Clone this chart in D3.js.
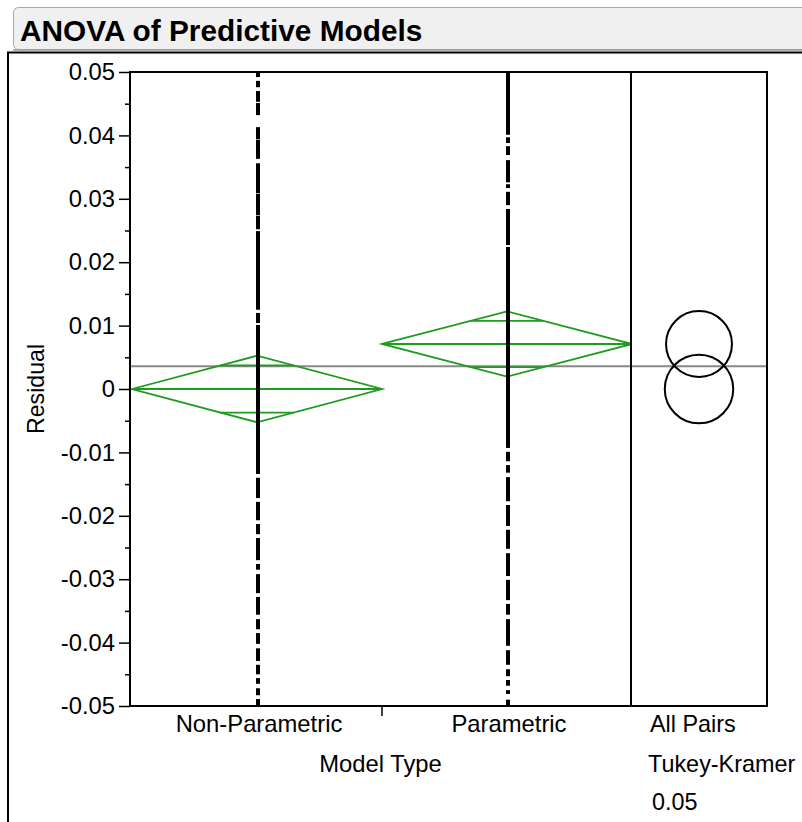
<!DOCTYPE html>
<html><head><meta charset="utf-8">
<script src="https://cdn.jsdelivr.net/npm/d3@7"></script>
<style>
html,body{margin:0;padding:0;background:#fff;}
svg{display:block;font-family:"Liberation Sans",Arial,sans-serif;}
</style></head>
<body>
<svg id="chart" width="802" height="822"></svg>
<script>
// ---------- data ----------
const title = "ANOVA of Predictive Models";
const categories = ["Non-Parametric", "Parametric"];
const groupMeans = [0.0, 0.0071];
const ciHalf = [0.00525, 0.00515];
const grandMean = 0.0036;
const circleRadius = [0.0054, 0.0052]; // Tukey-Kramer comparison circles (residual units)
const yTicks = [0.05, 0.04, 0.03, 0.02, 0.01, 0, -0.01, -0.02, -0.03, -0.04, -0.05];
const yMinorTicks = [0.045, 0.035, 0.025, 0.015, 0.005, -0.005, -0.015, -0.025, -0.035, -0.045];
const yLabel = "Residual";
const xLabel = "Model Type";
const compareLabels = ["All Pairs", "Tukey-Kramer", "0.05"];
// runs of densely packed residual points [high, low]
const nonParamRuns = [
  [0.0500, 0.0492], [0.0486, 0.0476], [0.0470, 0.0453], [0.0451, 0.0432],
  [0.0413, 0.0394], [0.0393, 0.0363], [0.0356, 0.0309], [0.0308, 0.0274],
  [0.0273, 0.0252], [0.0249, 0.0125], [0.0120, 0.0104], [0.0101, -0.0134],
  [-0.0140, -0.0172], [-0.0178, -0.0207], [-0.0213, -0.0229], [-0.0235, -0.0270],
  [-0.0276, -0.0285], [-0.0292, -0.0322], [-0.0328, -0.0356], [-0.0363, -0.0379],
  [-0.0385, -0.0402], [-0.0409, -0.0429], [-0.0435, -0.0450], [-0.0456, -0.0465],
  [-0.0472, -0.0483], [-0.0489, -0.0500]
];
const paramRuns = [
  [0.0500, 0.0401], [0.0397, 0.0388], [0.0383, 0.0369], [0.0361, 0.0326],
  [0.0323, 0.0317], [0.0311, 0.0290], [0.0284, 0.0227], [0.0224, -0.0093],
  [-0.0099, -0.0114], [-0.0120, -0.0132], [-0.0139, -0.0177], [-0.0183, -0.0216],
  [-0.0222, -0.0252], [-0.0259, -0.0295], [-0.0301, -0.0333], [-0.0339, -0.0356],
  [-0.0363, -0.0405], [-0.0412, -0.0435], [-0.0442, -0.0453], [-0.0459, -0.0468],
  [-0.0475, -0.0481], [-0.0490, -0.0500]
];
const runs = [nonParamRuns, paramRuns];

// ---------- layout ----------
const svg = d3.select("#chart");
const plotL = 130, plotT = 72, plotB = 706, divX = 631, plotR = 767;
const green = "#1f9b1f";
const FS = 23.8;

const y = d3.scaleLinear().domain([-0.05, 0.05]).range([plotB, plotT]);
const x = d3.scaleBand().domain(categories).range([132, 632]).padding(0);

// title bar
svg.append("rect").attr("x", 13.5).attr("y", 7.5).attr("width", 800).attr("height", 42)
  .attr("rx", 5).attr("fill", "#f0f0f0").attr("stroke", "#a8a8a8").attr("stroke-width", 1);
svg.append("line").attr("x1", 13).attr("x2", 802).attr("y1", 50).attr("y2", 50)
  .attr("stroke", "#9a9a9a").attr("stroke-width", 1.5);
svg.append("text").attr("x", 20).attr("y", 41).attr("font-size", 29.8).attr("font-weight", "bold")
  .attr("fill", "#000").text(title);

// outer frame
svg.append("path").attr("d", "M8,822 V52.5 H802").attr("fill", "none")
  .attr("stroke", "#000").attr("stroke-width", 2);

// grand mean line (across both panels)
svg.append("line").attr("x1", plotL).attr("x2", plotR)
  .attr("y1", y(grandMean)).attr("y2", y(grandMean))
  .attr("stroke", "#888").attr("stroke-width", 2);

// clip for plot
svg.append("clipPath").attr("id", "plotclip").append("rect")
  .attr("x", plotL).attr("y", plotT).attr("width", divX - plotL).attr("height", plotB - plotT);

const g = svg.append("g").attr("clip-path", "url(#plotclip)");

// diamonds
categories.forEach((c, i) => {
  const x0 = x(c), x1 = x(c) + x.bandwidth(), xc = x(c) + x.bandwidth() / 2;
  const m = groupMeans[i], h = ciHalf[i];
  const dg = g.append("g").attr("fill", "none").attr("stroke", green).attr("stroke-width", 1.8);
  dg.append("path").attr("d",
    `M${x0},${y(m)} L${xc},${y(m + h)} L${x1},${y(m)} L${xc},${y(m - h)} Z`);
  dg.append("line").attr("x1", x0).attr("x2", x1).attr("y1", y(m)).attr("y2", y(m));
  const o = h / Math.SQRT2;
  const hw = (x.bandwidth() / 2) * (1 - 1 / Math.SQRT2);
  [m + o, m - o].forEach(v => {
    dg.append("line").attr("x1", xc - hw).attr("x2", xc + hw).attr("y1", y(v)).attr("y2", y(v));
  });
});

// point columns
categories.forEach((c, i) => {
  const xc = x(c) + x.bandwidth() / 2 + 1;
  g.append("g").selectAll("rect").data(runs[i]).join("rect")
    .attr("x", xc - 2).attr("width", 4)
    .attr("y", d => y(d[0])).attr("height", d => Math.max(1, y(d[1]) - y(d[0])))
    .attr("fill", "#000");
});

// comparison circles
const cx = (divX + plotR) / 2;
categories.forEach((c, i) => {
  svg.append("circle").attr("cx", cx).attr("cy", y(groupMeans[i]))
    .attr("r", y(0) - y(circleRadius[i]))
    .attr("fill", "none").attr("stroke", "#000").attr("stroke-width", 2);
});

// frame
svg.append("rect").attr("x", plotL).attr("y", plotT).attr("width", plotR - plotL).attr("height", plotB - plotT)
  .attr("fill", "none").attr("stroke", "#000").attr("stroke-width", 2);
svg.append("line").attr("x1", divX).attr("x2", divX).attr("y1", plotT).attr("y2", plotB)
  .attr("stroke", "#000").attr("stroke-width", 2);

// y axis
const yAxis = d3.axisLeft(y).tickValues(yTicks).tickSize(11).tickPadding(4)
  .tickFormat(d => d === 0 ? "0" : d3.format(".2f")(d).replace("\u2212", "-"));
const ya = svg.append("g").attr("transform", `translate(${plotL},0)`).call(yAxis);
ya.attr("font-family", null).attr("font-size", null);
ya.select(".domain").remove();
ya.selectAll(".tick line").attr("stroke", "#000").attr("stroke-width", 1.5);
ya.selectAll(".tick text").attr("font-size", FS).attr("fill", "#000");
const yMinor = d3.axisLeft(y).tickValues(yMinorTicks).tickSize(5).tickFormat("");
const ym = svg.append("g").attr("transform", `translate(${plotL},0)`).call(yMinor);
ym.select(".domain").remove();
ym.selectAll(".tick line").attr("stroke", "#000").attr("stroke-width", 1.5);

svg.append("text").attr("transform", `translate(44,${y(0)}) rotate(-90)`)
  .attr("text-anchor", "middle").attr("font-size", 23.2).text(yLabel);

// x axis
const xa = svg.append("g");
xa.append("line").attr("x1", x(categories[1])).attr("x2", x(categories[1]))
  .attr("y1", plotB).attr("y2", plotB + 10).attr("stroke", "#000").attr("stroke-width", 1.5);
categories.forEach(c => {
  xa.append("text").attr("x", x(c) + x.bandwidth() / 2 + 2).attr("y", 732)
    .attr("text-anchor", "middle").attr("font-size", FS).text(c);
});
svg.append("text").attr("x", (plotL + divX) / 2).attr("y", 772).attr("text-anchor", "middle")
  .attr("font-size", FS).text(xLabel);

// comparison labels
const cl = [[650, 732], [648, 772], [652, 810]];
compareLabels.forEach((t, i) => {
  svg.append("text").attr("x", cl[i][0]).attr("y", cl[i][1]).attr("font-size", 23.4).text(t);
});
</script>
</body></html>
